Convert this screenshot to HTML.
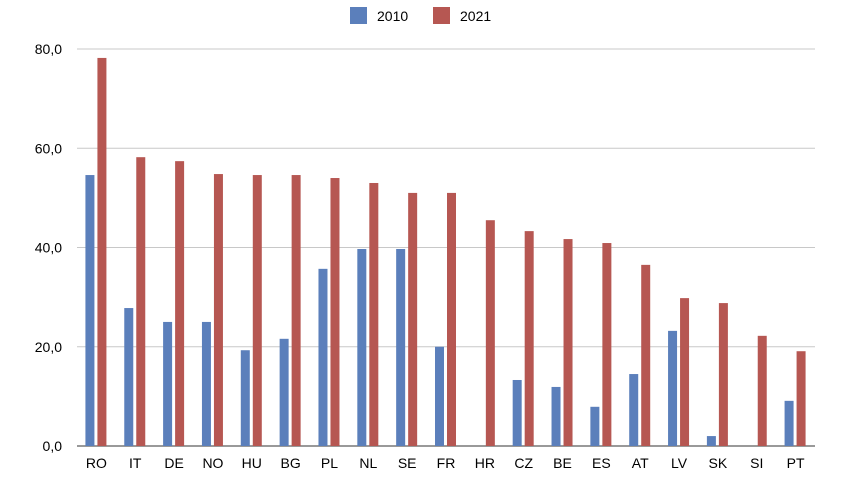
<!DOCTYPE html>
<html><head><meta charset="utf-8"><style>
body{margin:0;background:#fff;font-family:"Liberation Sans",sans-serif;}
svg text{font-family:"Liberation Sans",sans-serif;font-size:14px;fill:#000;}
</style></head><body>
<svg id="chart" width="846" height="482">
<g id="legend">
<rect x="350" y="7" width="17" height="17" fill="#5b7fbb"/>
<text x="377" y="21">2010</text>
<rect x="433" y="7" width="17" height="17" fill="#b65752"/>
<text x="460" y="21">2021</text>
</g>
<g id="grid"></g><g id="bars"></g><g id="labels"></g>
</svg>
<script>
const categories=["RO","IT","DE","NO","HU","BG","PL","NL","SE","FR","HR","CZ","BE","ES","AT","LV","SK","SI","PT"];
const values2010=[54.6,27.8,25.0,25.0,19.3,21.6,35.7,39.7,39.7,20.0,null,13.3,11.9,7.9,14.5,23.2,2.0,null,9.1];
const values2021=[78.2,58.2,57.4,54.8,54.6,54.6,54.0,53.0,51.0,51.0,45.5,43.3,41.7,40.9,36.5,29.8,28.8,22.2,19.1];
const ticks=[0,20,40,60,80];
const tickLabels=["0,0","20,0","40,0","60,0","80,0"];
const NS="http://www.w3.org/2000/svg";
const y0=446,y1=49,vmax=80,xL=77,xR=815;
const y=v=>y0-(v/vmax)*(y0-y1);
const step=(xR-xL)/categories.length;
const xc=i=>xL+step*(i+0.5);
function mk(t,a,p){const e=document.createElementNS(NS,t);for(const k in a)e.setAttribute(k,a[k]);p.appendChild(e);return e;}
const grid=document.getElementById('grid'),bars=document.getElementById('bars'),labels=document.getElementById('labels');
ticks.forEach((t,i)=>{
 const l=mk('line',{x1:xL,x2:xR,y1:y(t),y2:y(t),stroke:t===0?'#333':'#c8c8c8','stroke-width':1},grid);
 
 
 const tx=mk('text',{x:62,y:y(t)+5,'text-anchor':'end'},grid);
 tx.textContent=tickLabels[i];
 
 
});
categories.forEach((c,i)=>{
 const cx=xc(i);
 if(values2010[i]!=null){
  const r=mk('rect',{x:cx-11,y:y(values2010[i]),width:9,height:y0-y(values2010[i]),fill:'#5b7fbb'},bars);
  
  
 }
 if(values2021[i]!=null){
  const r=mk('rect',{x:cx+1,y:y(values2021[i]),width:9,height:y0-y(values2021[i]),fill:'#b65752'},bars);
  
  
 }
 const t=mk('text',{x:cx,y:468,'text-anchor':'middle'},labels);
 t.textContent=c;
 
 
});
</script>
</body></html>
